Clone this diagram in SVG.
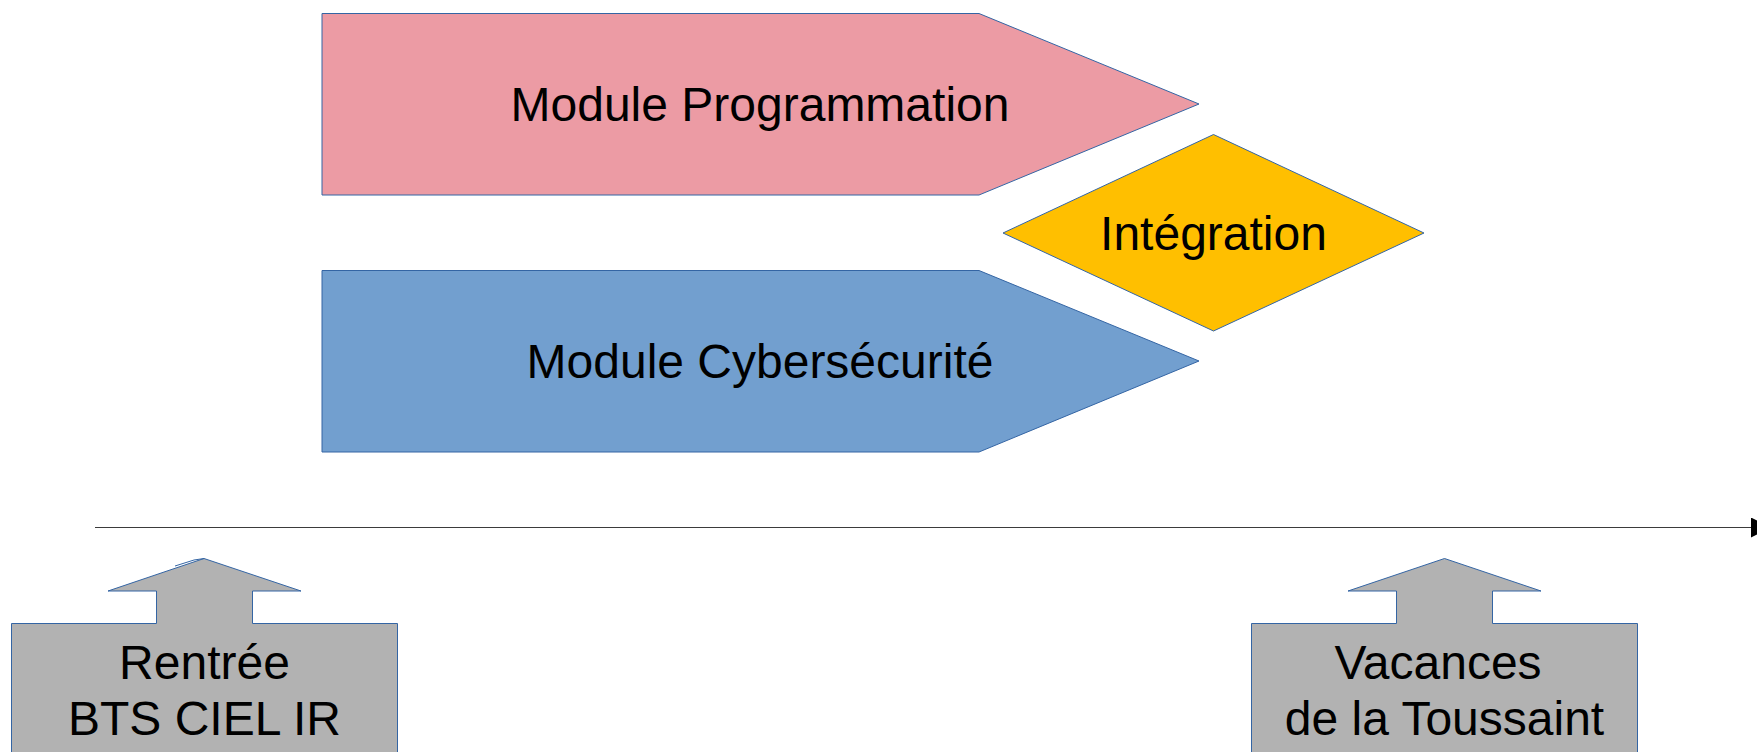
<svg xmlns="http://www.w3.org/2000/svg" width="1757" height="752" viewBox="0 0 1757 752">
<style>
.shape{stroke:#3465a4;stroke-width:1}
.lbl{font-family:"Liberation Sans",Arial,sans-serif;font-size:48px;fill:#000;text-anchor:middle}
.cl{font-family:"Liberation Sans",Arial,sans-serif;font-size:48px;fill:#000;text-anchor:middle}
.gray{fill:#b2b2b2}
</style>
<defs>
<marker id="arr" markerWidth="20" markerHeight="20" refX="0" refY="10" orient="auto" markerUnits="userSpaceOnUse">
<path d="M0,0 L20,10 L0,20 Z" fill="#000"/>
</marker>
</defs>
<rect width="1757" height="752" fill="#fff"/>
<g id="connectors">
<line x1="95" y1="527.5" x2="1751" y2="527.5" stroke="#3b3b3b" stroke-width="1" marker-end="url(#arr)"/>
</g>
<g id="module-programmation">
<polygon class="shape" fill="#ec9ba4" points="322,13.5 979,13.5 1199,104 979,195 322,195"/>
<text class="lbl" x="760" y="121">Module Programmation</text>
</g>
<g id="module-cybersecurite">
<polygon class="shape" fill="#729fcf" points="322,270.5 979,270.5 1199,361 979,452 322,452"/>
<text class="lbl" x="760" y="378">Module Cybersécurité</text>
</g>
<g id="integration">
<polygon class="shape" fill="#ffbf00" points="1003,233 1213.5,134.5 1424,233 1213.5,331"/>
<text class="lbl" x="1213.5" y="250">Intégration</text>
</g>
<g id="rentree">
<polygon class="shape gray" points="11.5,623.5 156.5,623.5 156.5,591 108,591 204,558.5 301,591 252.5,591 252.5,623.5 397.5,623.5 397.5,760 11.5,760"/>
<polyline fill="none" stroke="#3465a4" stroke-width="1" points="175,566 194,560 204,558.5"/>
<text class="cl" x="204.5" y="679">Rentrée</text>
<text class="cl" x="204.5" y="735">BTS CIEL IR</text>
</g>
<g id="vacances">
<polygon class="shape gray" points="1251.5,623.5 1396.5,623.5 1396.5,591 1348,591 1444.5,558.5 1541,591 1492.5,591 1492.5,623.5 1637.5,623.5 1637.5,760 1251.5,760"/>
<text class="cl" x="1438" y="679">Vacances</text>
<text class="cl" x="1444.5" y="735">de la Toussaint</text>
</g>
</svg>
